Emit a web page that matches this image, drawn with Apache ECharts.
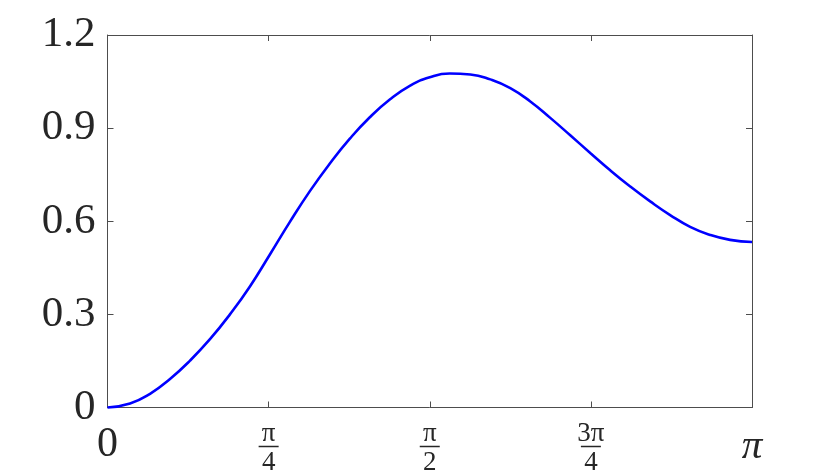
<!DOCTYPE html>
<html>
<head>
<meta charset="utf-8">
<script src="https://cdn.jsdelivr.net/npm/echarts@6/dist/echarts.min.js"></script>
<style>
  html, body { margin: 0; padding: 0; background: #fff; }
  #chart { width: 830px; height: 476px; }
</style>
</head>
<body>
<div id="chart"></div>
<script>
// x in multiples of pi, y
const xPi = [0, 0.035, 0.066, 0.097, 0.128, 0.159, 0.190, 0.221, 0.252,
  0.283, 0.314, 0.345, 0.376, 0.407, 0.438, 0.469, 0.500, 0.531, 0.563,
  0.594, 0.625, 0.656, 0.687, 0.718, 0.749, 0.780, 0.811, 0.842, 0.873,
  0.904, 0.935, 0.966, 1.0];
const yVals = [0, 0.013, 0.044, 0.092, 0.151, 0.220, 0.300, 0.390, 0.493,
  0.598, 0.697, 0.786, 0.866, 0.935, 0.992, 1.036, 1.064, 1.076, 1.073,
  1.057, 1.029, 0.986, 0.933, 0.877, 0.820, 0.764, 0.712, 0.664, 0.620,
  0.582, 0.556, 0.540, 0.533];
const xTickLabels = ['{big|0}', '{n|π}\n{bar|}\n{d|4}', '{n|π}\n{bar|}\n{d|2}', '{n|3π}\n{bar|}\n{d|4}', '{pi|π}'];
const yTicks = [0, 0.3, 0.6, 0.9, 1.2];

const axisColor = '#4d4d4d';
const textColor = '#262626';
const serif = 'Liberation Serif';

let chart = echarts.init(document.getElementById('chart'));

const boxAxis = {
  type: 'value',
  axisLine: { show: true, onZero: false, lineStyle: { color: axisColor, width: 1 } },
  axisTick: { show: true, inside: true, length: 6, lineStyle: { color: axisColor } },
  axisLabel: { show: false },
  splitLine: { show: false }
};

chart.setOption({
  animation: false,
  grid: {
    left: 107.5,
    right: 78,
    top: 35,
    bottom: 65.5
  },
  xAxis: [
    {
      type: 'value',
      min: 0,
      max: 1,
      interval: 0.25,
      axisLine: { onZero: false, lineStyle: { color: axisColor, width: 1 } },
      axisTick: { inside: true, length: 6, lineStyle: { color: axisColor } },
      splitLine: { show: false },
      axisLabel: {
        margin: 17,
        color: textColor,
        fontFamily: serif,
        formatter: function (v) {
          return xTickLabels[Math.round(v / 0.25)];
        },
        rich: {
          big: { fontSize: 42, fontFamily: serif, color: textColor, lineHeight: 40 },
          pi: { fontSize: 41, fontFamily: serif, fontStyle: 'italic', color: textColor, lineHeight: 44, padding: [1, 0, 0, 0] },
          n: { fontSize: 27, fontFamily: serif, color: textColor, lineHeight: 19 },
          bar: { width: 20, height: 1.5, backgroundColor: textColor, lineHeight: 6 },
          d: { fontSize: 27, fontFamily: serif, color: textColor, lineHeight: 26 }
        }
      }
    },
    Object.assign({}, boxAxis, { position: 'top', min: 0, max: 1, interval: 0.25 })
  ],
  yAxis: [
    {
      type: 'value',
      min: 0,
      max: 1.2,
      interval: 0.3,
      axisLine: { show: true, onZero: false, lineStyle: { color: axisColor, width: 1 } },
      axisTick: { show: true, inside: true, length: 6, lineStyle: { color: axisColor } },
      splitLine: { show: false },
      axisLabel: {
        margin: 12,
        color: textColor,
        fontFamily: serif,
        fontSize: 43,
        formatter: function (v) {
          let t = yTicks.find(k => Math.abs(k - v) < 1e-6);
          return t === 0 ? '0' : t.toFixed(1);
        }
      }
    },
    Object.assign({}, boxAxis, { position: 'right', min: 0, max: 1.2, interval: 0.3 })
  ],
  series: [
    {
      type: 'line',
      data: xPi.map((x, i) => [x, yVals[i]]),
      smooth: 0.5,
      showSymbol: false,
      lineStyle: { color: '#0000ff', width: 2.6 },
      clip: false
    }
  ]
});
</script>
</body>
</html>
